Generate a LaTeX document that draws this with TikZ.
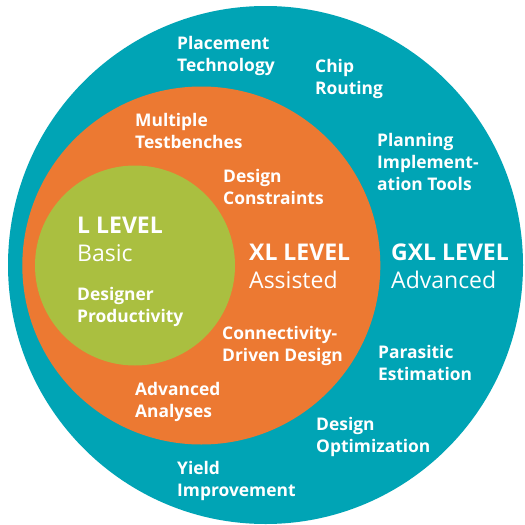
\documentclass[tikz,border=0pt]{standalone}
\usepackage{fontspec}
\setmainfont{Open Sans}
\definecolor{tealc}{RGB}{0,164,181}
\definecolor{orangec}{RGB}{236,121,50}
\definecolor{greenc}{RGB}{170,191,64}
\tikzset{
  lbl/.style={anchor=north west, inner sep=0pt, align=left, text=white,
    font=\bfseries\fontsize{17.4}{22}\selectfont},
  lvl/.style={anchor=north west, inner sep=0pt, align=left, text=white,
    font=\bfseries\fontsize{23}{28}\selectfont}
}
\begin{document}
\begin{tikzpicture}[x=1pt,y=-1pt]
\useasboundingbox (0,0) rectangle (525,525);
\fill[white] (0,0) rectangle (525,525);
\fill[tealc] (265.5,265) ellipse [x radius=257.5, y radius=259];
\fill[orangec] (201.3,265.5) circle [radius=179];
\fill[greenc] (135,265.5) circle [radius=100];

\node[lbl] (place) at (177,36) {Placement\\Technology};
\node[lbl] (chip) at (315,59) {Chip\\Routing};
\node[lbl] (multi) at (135,113) {Multiple\\Testbenches};
\node[lbl] (plan) at (377,133) {Planning\\Implement-\\ation Tools};
\node[lbl] (dcons) at (223,169) {Design\\Constraints};
\node[lvl] (llev) at (77,217) {L LEVEL\\{\mdseries Basic}};
\node[lvl] (xllev) at (249,244) {XL LEVEL\\{\mdseries Assisted}};
\node[lvl] (gxllev) at (391,244) {GXL LEVEL\\{\mdseries Advanced}};
\node[lbl] (dprod) at (77,287) {Designer\\Productivity};
\node[lbl] (conn) at (222,326) {Connectivity-\\Driven Design};
\node[lbl] (para) at (378,345) {Parasitic\\Estimation};
\node[lbl] (adv) at (135,382) {Advanced\\Analyses};
\node[lbl] (dopt) at (316,417) {Design\\Optimization};
\node[lbl] (yield) at (177,461) {Yield\\Improvement};
\end{tikzpicture}
\end{document}
